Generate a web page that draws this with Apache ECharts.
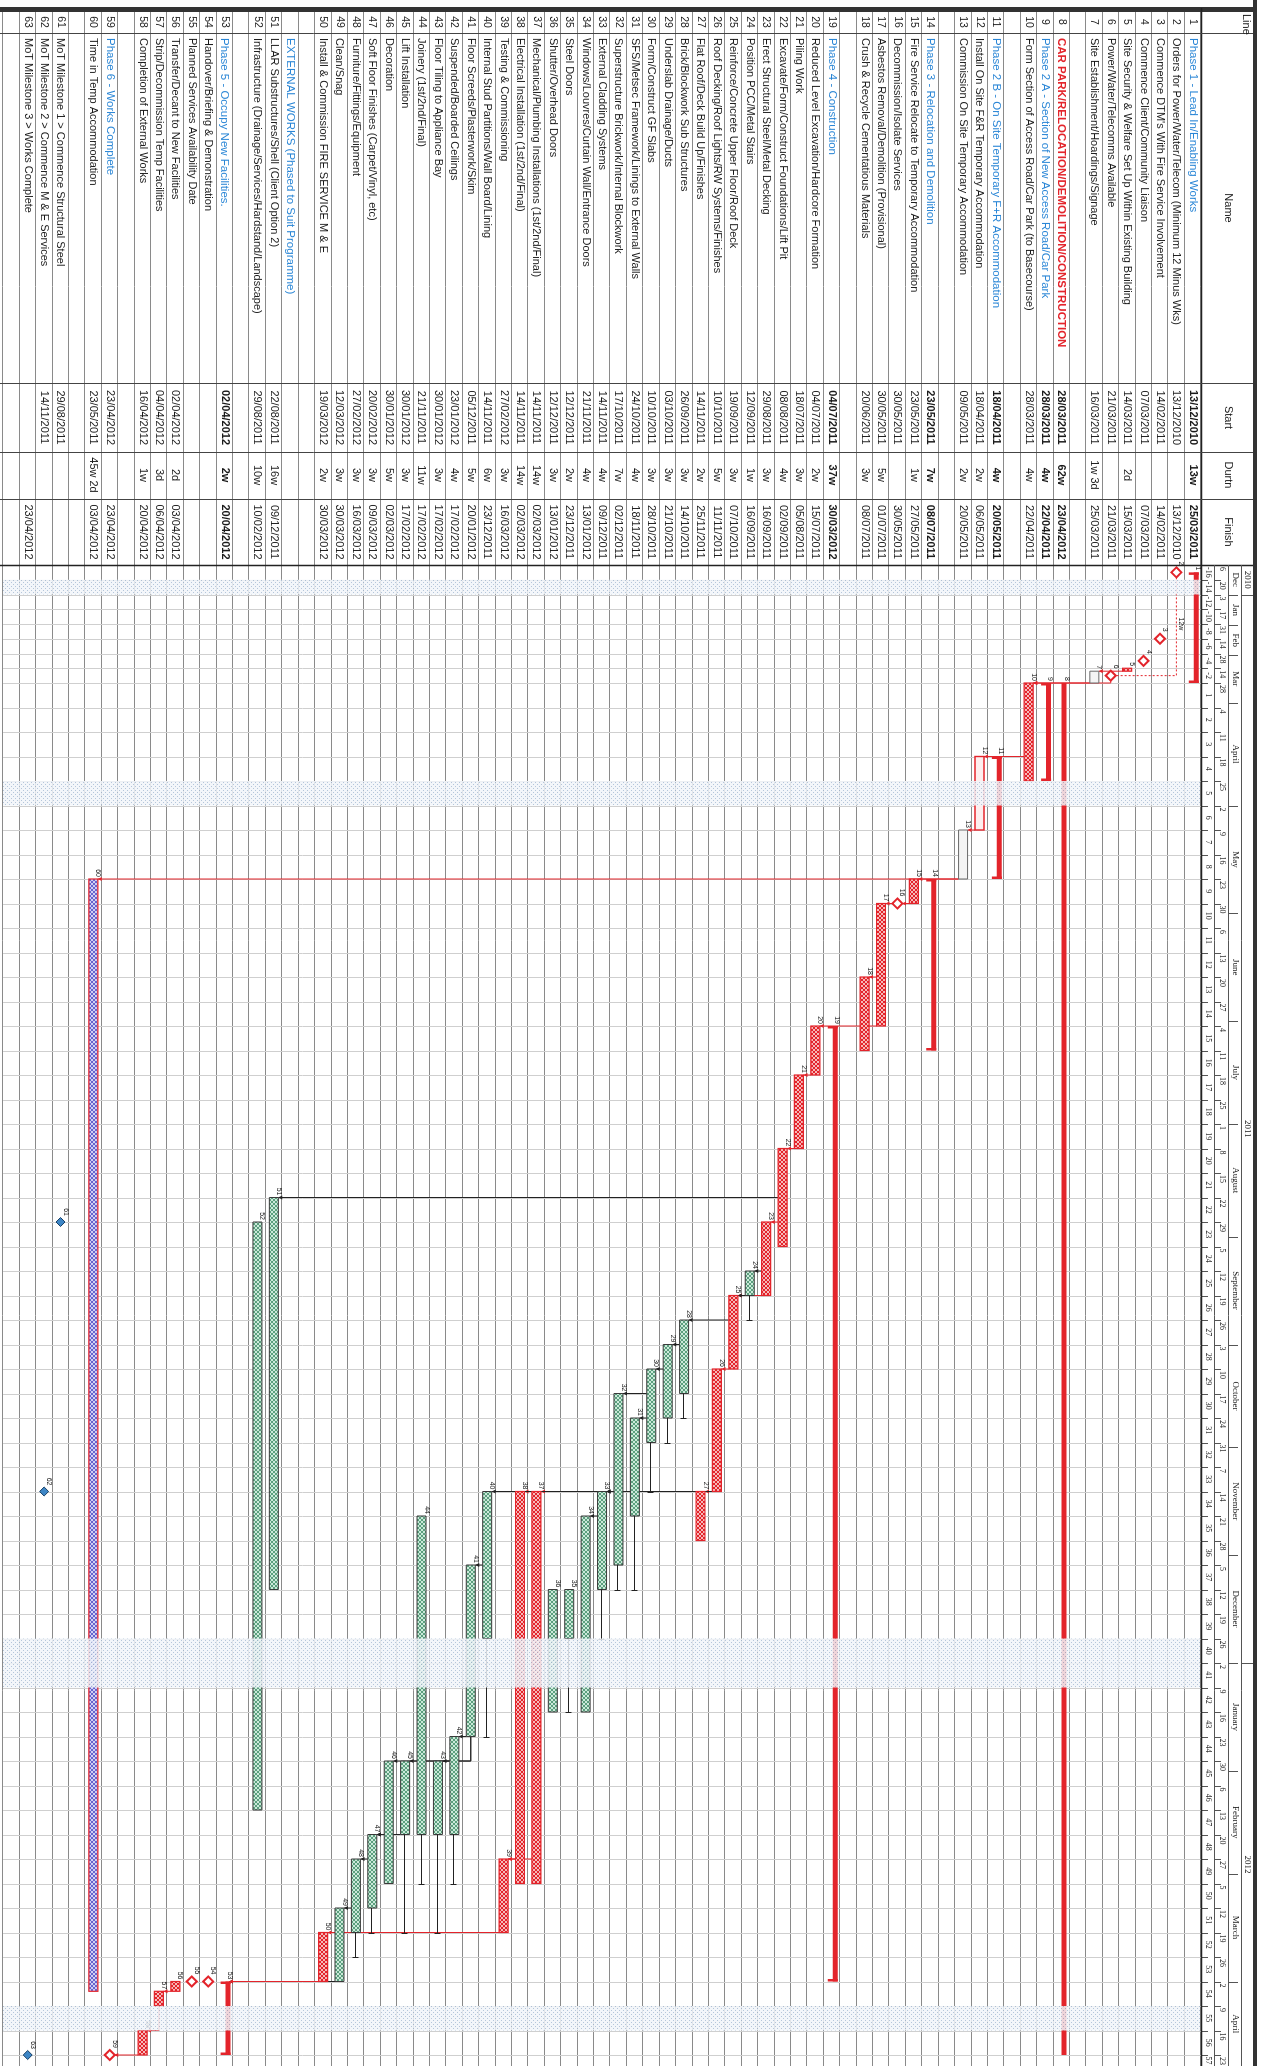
<!DOCTYPE html>
<html>
<head>
<meta charset="utf-8">
<title>Programme</title>
<script src="https://cdn.jsdelivr.net/npm/echarts@6/dist/echarts.min.js"></script>
<style>
  html, body { margin:0; padding:0; width:1262px; height:2066px; overflow:hidden; background:#fff; }
  /* the programme is laid out landscape and turned a quarter clockwise onto the portrait sheet */
  #chart { position:absolute; left:0; top:0; width:2066px; height:1262px;
           transform-origin:0 0; transform:translate(1262px,0) rotate(90deg); }
</style>
</head>
<body>
<div id="chart"></div>
<script>
// ---------------- programme lines ----------------
const lineNames = [
  'Phase 1 - Lead In/Enabling Works',
  'Orders for Power/Water/Telecom (Minimum 12 Minus Wks)',
  "Commence DTM's With Fire Service Involvement",
  'Commence Client/Community Liaison',
  'Site Security & Welfare Set Up Within Existing Building',
  'Power/Water/Telecomms Available',
  'Site Establishment/Hoardings/Signage',
  'CAR PARK/RELOCATION/DEMOLITION/CONSTRUCTION',
  'Phase 2 A - Section of New Access Road/Car Park',
  'Form Section of Access Road/Car Park (to Basecourse)',
  'Phase 2 B - On Site Temporary F+R Accommodation',
  'Install On Site F&R Temporary Accommodation',
  'Commission On Site Temporary Accommodation',
  'Phase 3 - Relocation and Demolition',
  'Fire Service Relocate to Temporary Accommodation',
  'Decommission/Isolate Services',
  'Asbestos Removal/Demolition (Provisional)',
  'Crush & Recycle Cementatious Materials',
  'Phase 4 - Construction',
  'Reduced Level Excavation/Hardcore Formation',
  'Piling Work',
  'Excavate/Form/Construct Foundations/Lift Pit',
  'Erect Structural Steel/Metal Decking',
  'Position PCC/Metal Stairs',
  'Reinforce/Concrete Upper Floor/Roof Deck',
  'Roof Decking/Roof Lights/RW Systems/Finishes',
  'Flat Roof/Deck Build Up/Finishes',
  'Brick/Blockwork Sub Structures',
  'Underslab Drainage/Ducts',
  'Form/Construct GF Slabs',
  'SFS/Metsec Framework/Linings to External Walls',
  'Superstructure Brickwork/Internal Blockwork',
  'External Cladding Systems',
  'Windows/Louvres/Curtain Wall/Entrance Doors',
  'Steel Doors',
  'Shutter/Overhead Doors',
  'Mechanical/Plumbing Installations (1st/2nd/Final)',
  'Electrical Installation (1st/2nd/Final)',
  'Testing & Commissioning',
  'Internal Stud Partitions/Wall Board/Lining',
  'Floor Screeds/Plasterwork/Skim',
  'Suspended/Boarded Ceilings',
  'Floor Tiling to Appliance Bay',
  'Joinery (1st/2nd/Final)',
  'Lift Installation',
  'Decoration',
  'Soft Floor Finishes (Carpet/Vinyl, etc)',
  'Furniture/Fittings/Equipment',
  'Clean/Snag',
  'Install & Commission FIRE SERVICE M & E',
  'LLAR Substructures/Shell (Client Option 2)',
  'Infrastructure (Drainage/Services/Hardstand/Landscape)',
  'Phase 5 - Occupy New Facilities.',
  'Handover/Briefing & Demonstration',
  'Planned Services Availability Date',
  'Transfer/Decant to New Facilities',
  'Strip/Decommission Temp Facilities',
  'Completion of External Works',
  'Phase 6 - Works Complete',
  'Time in Temp Accommodation',
  'MoT Milestone 1 > Commence Structural Steel',
  'MoT Milestone 2 > Commence M & E Services',
  'MoT Milestone 3 > Works Complete'
];
const lineStart = [
  '13/12/2010','13/12/2010','14/02/2011','07/03/2011','14/03/2011','21/03/2011','16/03/2011',
  '28/03/2011','28/03/2011','28/03/2011','18/04/2011','18/04/2011','09/05/2011','23/05/2011','23/05/2011','30/05/2011','30/05/2011','20/06/2011',
  '04/07/2011','04/07/2011','18/07/2011','08/08/2011','29/08/2011','12/09/2011','19/09/2011','10/10/2011','14/11/2011','26/09/2011',
  '03/10/2011','10/10/2011','24/10/2011','17/10/2011','14/11/2011','21/11/2011','12/12/2011','12/12/2011','14/11/2011','14/11/2011',
  '27/02/2012','14/11/2011','05/12/2011','23/01/2012','30/01/2012','21/11/2011','30/01/2012','30/01/2012','20/02/2012','27/02/2012',
  '12/03/2012','19/03/2012',
  '22/08/2011','29/08/2011','02/04/2012','','','02/04/2012','04/04/2012','16/04/2012','23/04/2012','23/05/2011','29/08/2011','14/11/2011',''
];
const lineDurtn = [
  '13w','','','','2d','','1w 3d',
  '62w','4w','4w','4w','2w','2w','7w','1w','','5w','3w',
  '37w','2w','3w','4w','3w','1w','3w','5w','2w','3w','3w','3w','4w','7w','4w','4w','2w','3w','14w','14w','3w','6w','5w','4w','3w',
  '11w','3w','5w','3w','3w','3w','2w',
  '16w','10w','2w','','','2d','3d','1w','','45w 2d','','',''
];
const lineFinish = [
  '25/03/2011','13/12/2010','14/02/2011','07/03/2011','15/03/2011','21/03/2011','25/03/2011',
  '23/04/2012','22/04/2011','22/04/2011','20/05/2011','06/05/2011','20/05/2011','08/07/2011','27/05/2011','30/05/2011','01/07/2011','08/07/2011',
  '30/03/2012','15/07/2011','05/08/2011','02/09/2011','16/09/2011','16/09/2011','07/10/2011','11/11/2011','25/11/2011','14/10/2011',
  '21/10/2011','28/10/2011','18/11/2011','02/12/2011','09/12/2011','13/01/2012','23/12/2011','13/01/2012','02/03/2012','02/03/2012',
  '16/03/2012','23/12/2011','20/01/2012','17/02/2012','17/02/2012','17/02/2012','17/02/2012','02/03/2012','09/03/2012','16/03/2012',
  '30/03/2012','30/03/2012',
  '09/12/2011','10/02/2012','20/04/2012','','','03/04/2012','06/04/2012','20/04/2012','23/04/2012','03/04/2012','','','23/04/2012'
];
// schedule role of each line
const lineType = [
  'summary','milestone','milestone','milestone','critical','milestone','open',
  'project','summary','critical','summary','critopen','open','summary','critical','milestone','critical','critical',
  'summary','critical','critical','critical','critical','task','critical','critical','critical','task','task','task','task','task',
  'task','task','task','task','critical','critical','critical','task','task','task','task','task','task','task','task','task','task','critical',
  'task','task','summary','milestone','milestone','critical','critical','critical','milestone','temporary','mot','mot','mot'
];
// key dates for the two lines whose date cells are left blank
const undatedLines = [54, 55];
const undatedDates = ['02/04/2012', '02/04/2012'];

// sheet order: 0 = spacer row, -1 = section caption
const slotLines = [1,2,3,4,5,6,7,0,8,9,10,0,11,12,13,0,14,15,16,17,18,0,
  19,20,21,22,23,24,25,26,27,28,29,30,31,32,33,34,35,36,37,38,39,40,41,42,43,44,45,46,47,48,49,50,0,
  -1,51,52,0,53,54,55,56,57,58,0,59,60,0,61,62,63,0];
const sectionCaption = 'EXTERNAL WORKS (Phased to Suit Programme)';
const headingLines = [1,9,11,14,19,53,59];
const projectLines = [8];
const boldDateLines = [1,8,9,11,14,19,53];

// non-working periods
const holidayFrom = ['20/12/2010','25/04/2011','26/12/2011','09/04/2012'];
const holidayTo   = ['31/12/2010','29/04/2011','06/01/2012','13/04/2012'];

// total float of the non-critical activities (latest finish)
const floatLine = [24, 28, 29, 30, 31, 32, 33, 35, 40, 42, 43, 44, 45, 47, 48];
const floatEnd  = ['23/09/2011','21/10/2011','28/10/2011','11/11/2011','09/12/2011','09/12/2011','23/12/2011','13/01/2012',
                   '20/01/2012','02/03/2012','16/03/2012','02/03/2012','16/03/2012','16/03/2012','23/03/2012'];

// logic links (predecessor -> successor)
const linkFrom = [5, 6, 7, 10, 12, 13, 13, 15, 16, 17, 17, 20, 21, 22, 22, 23, 23, 24, 25, 26, 26, 26, 26,
  25, 28, 29, 30, 30, 31, 32, 33, 26, 40, 41, 41, 41, 42, 45, 46, 47, 48, 37, 38, 39, 49, 50, 56, 57, 58];
const linkTo   = [7, 10, 10, 12, 13, 15, 60, 16, 17, 18, 20, 21, 22, 23, 51, 24, 25, 25, 26, 27, 37, 38, 40,
  28, 29, 30, 31, 32, 33, 33, 34, 33, 41, 42, 45, 46, 43, 47, 47, 48, 49, 39, 39, 50, 53, 53, 57, 58, 59];
// lagged link from the orders to the services being available
const lagFrom = 2, lagTo = 6, lagLabel = '12w';

// timescale labels
const yearLabels = ['2010', '2011', '2012'];
const yearStarts = ['06/12/2010', '01/01/2011', '01/01/2012'];
const monthLabels = ['Dec','Jan','Feb','Mar','April','May','June','July','August','September','October','November','December','January','February','March','April'];
const monthStarts = ['06/12/2010','01/01/2011','01/02/2011','01/03/2011','01/04/2011','01/05/2011','01/06/2011','01/07/2011','01/08/2011',
  '01/09/2011','01/10/2011','01/11/2011','01/12/2011','01/01/2012','01/02/2012','01/03/2012','01/04/2012'];
const scaleEnd = '30/04/2012';

// ---------------- time scale helpers ----------------
const DAY = 86400000;
function parseD(s) { const p = s.split('/').map(Number); return Date.UTC(p[2], p[1] - 1, p[0]); }
const ORIGIN = parseD('06/12/2010');       // first column of the scale (a Monday)
const FULL_FROM = parseD('28/03/2011');    // week 1: scale is condensed before this
const CONDENSED_WEEKS = 16;
const CONDENSED = 118 / 16 / 24.5;         // width of a condensed week, in full weeks
const AXIS_MAX = 1501 / 24.5;              // visible span in full weeks
// working-week position of a calendar instant on the axis
function toAxis(t) {
  const days = Math.round((t - ORIGIN) / DAY);
  const wk = Math.floor(days / 7), r = days - wk * 7;
  const w = wk + Math.min(r, 5) / 5;
  return w <= CONDENSED_WEEKS ? w * CONDENSED : CONDENSED_WEEKS * CONDENSED + (w - CONDENSED_WEEKS);
}
const uOf = s => toAxis(parseD(s));
const uEndOf = s => toAxis(parseD(s) + DAY);

// ---------------- layout ----------------
const BODY_TOP = 61, SLOT_H = 16.41, NSLOT = slotLines.length;
const TIME_LEFT = 565;
const RED = '#e3242b', BLUE_TXT = '#2a86d6', INK = '#1a1a1a';
const slotOfLine = {};
slotLines.forEach((l, i) => { if (l > 0) slotOfLine[l] = i; });

function pattern(bg, fg, size, cross) {
  const c = document.createElement('canvas');
  c.width = c.height = size;
  const g = c.getContext('2d');
  g.fillStyle = bg; g.fillRect(0, 0, size, size);
  g.strokeStyle = fg; g.lineWidth = 1;
  g.beginPath(); g.moveTo(0, size); g.lineTo(size, 0); g.stroke();
  if (cross) { g.beginPath(); g.moveTo(0, 0); g.lineTo(size, size); g.stroke(); }
  return { image: c, repeat: 'repeat' };
}
function dots(bg, fg) {
  const c = document.createElement('canvas');
  c.width = c.height = 4;
  const g = c.getContext('2d');
  g.fillStyle = bg; g.fillRect(0, 0, 4, 4);
  g.fillStyle = fg; g.fillRect(0, 0, 1, 1); g.fillRect(2, 2, 1, 1);
  return { image: c, repeat: 'repeat' };
}
const FILL_CRIT = pattern('#f6b9b9', '#e3242b', 4, true);
const FILL_TASK = pattern('#cbe9d9', '#5b9f7e', 4, true);
const FILL_TEMP = pattern('#cfcff3', '#6763cf', 4, true);
const FILL_HOL = dots('#f1f5fa', '#a9bdd4');

// ---------------- derived marks ----------------
function lineBar(l) {
  const i = l - 1, type = lineType[i];
  const k = undatedLines.indexOf(l);
  const s = lineStart[i] || lineFinish[i] || (k >= 0 ? undatedDates[k] : '');
  if (type === 'milestone' || type === 'mot') return { u0: uOf(s), u1: uOf(s), type };
  const f = lineFinish[i];
  // a finish on a Monday closes at that key date rather than at the end of the day
  const monday = new Date(parseD(f)).getUTCDay() === 1 && type === 'project';
  return { u0: uOf(s), u1: monday ? uOf(f) : uEndOf(f), type };
}
const bars = lineNames.map((_, i) => Object.assign({ line: i + 1 }, lineBar(i + 1)));

const barData = bars.map(b => [b.u0, slotOfLine[b.line], b.u1]);
const holidayData = holidayFrom.map((f, i) => [uOf(f), uEndOf(holidayTo[i])]);
const floatData = floatLine.map((l, i) => [bars[l - 1].u1, slotOfLine[l], uEndOf(floatEnd[i])]);

const linkData = linkFrom.map((a, i) => {
  const b = linkTo[i], pa = bars[a - 1], pb = bars[b - 1];
  return [pa.u1, slotOfLine[a], pb.u0, slotOfLine[b], (lineType[a - 1] !== 'task' && lineType[b - 1] !== 'task') ? 1 : 0];
});

// scale ticks: fortnightly while condensed, weekly afterwards
const ticks = [];
for (let t = ORIGIN; t < FULL_FROM; t += 14 * DAY) ticks.push({ t, n: -16 + ticks.length * 2 });
let wkNo = 1;
for (let t = FULL_FROM; t <= parseD(scaleEnd); t += 7 * DAY) ticks.push({ t, n: wkNo++ });
const tickU = ticks.map(k => toAxis(k.t));

// ---------------- chart ----------------
const chart = echarts.init(document.getElementById('chart'), null, { renderer: 'canvas', width: 2066, height: 1262 });
const slotIds = slotLines.map((_, i) => 's' + i);
const gridH = NSLOT * SLOT_H;

function catAxis(gi) {
  return {
    type: 'category', gridIndex: gi, data: slotIds, inverse: true,
    axisLine: { show: false }, axisTick: { show: false }, axisLabel: { show: false, interval: 0 },
    splitLine: { show: true, interval: 0, lineStyle: { color: '#8a8a8a', width: 1 } }
  };
}

const SERIF = '"Liberation Serif", "DejaVu Serif", serif';
const SANS = '"Liberation Sans", Arial, sans-serif';

const option = {
  animation: false,
  backgroundColor: '#ffffff',
  grid: [
    { left: 8, top: BODY_TOP, width: TIME_LEFT - 8, height: gridH },
    { left: TIME_LEFT, top: BODY_TOP, right: 0, height: gridH }
  ],
  xAxis: [
    { type: 'value', gridIndex: 0, min: 0, max: TIME_LEFT - 8, show: false },
    { type: 'value', gridIndex: 1, min: 0, max: AXIS_MAX, show: false }
  ],
  yAxis: [catAxis(0), catAxis(1)],
  graphic: { elements: [] },
  series: []
};

// table cells
option.series.push({
  type: 'custom', xAxisIndex: 0, yAxisIndex: 0, z: 5, silent: true,
  data: slotLines.map((l, i) => [0, i]),
  renderItem(params, api) {
    const slot = params.dataIndex, l = slotLines[slot];
    const y = api.coord([0, slot])[1];
    const kids = [];
    const txt = (x, s, align, style) => kids.push({
      type: 'text', x, y,
      style: Object.assign({ text: s, textAlign: align, textVerticalAlign: 'middle', fill: INK, font: '11px ' + SANS }, style || {})
    });
    if (l === -1) {
      txt(38, sectionCaption, 'left', { fill: BLUE_TXT, font: '11.5px ' + SANS });
    } else if (l > 0) {
      const i = l - 1;
      txt(22, String(l), 'center', { font: '10.5px ' + SANS });
      let nameStyle = { font: '11px ' + SANS };
      if (headingLines.includes(l)) nameStyle = { fill: BLUE_TXT, font: '500 11.5px ' + SANS };
      if (projectLines.includes(l)) nameStyle = { fill: RED, font: 'bold 11.5px ' + SANS };
      txt(38, lineNames[i], 'left', nameStyle);
      const df = (boldDateLines.includes(l) ? 'bold ' : '') + '11px ' + SANS;
      if (lineStart[i]) txt(417.5, lineStart[i], 'center', { font: df });
      if (lineDurtn[i]) txt(475, lineDurtn[i], 'center', { font: df });
      if (lineFinish[i]) txt(532, lineFinish[i], 'center', { font: df });
    }
    return { type: 'group', children: kids };
  }
});

// weekly grid lines across the bar area
option.series.push({
  type: 'custom', xAxisIndex: 1, yAxisIndex: 1, z: 1, silent: true,
  data: tickU.map(u => [u, 0]),
  renderItem(params, api) {
    const x = Math.round(api.coord([api.value(0), 0])[0]) + 0.5;
    const top = params.coordSys.y, bot = top + params.coordSys.height;
    return { type: 'line', shape: { x1: x, y1: top, x2: x, y2: bot }, style: { stroke: '#cfcfcf', lineWidth: 1 } };
  }
});

// timescale header: years, months, week commencing dates, week numbers
const headerItems = [];
yearStarts.forEach((s, i) => headerItems.push({ kind: 'year', u0: uOf(s), u1: i + 1 < yearStarts.length ? uOf(yearStarts[i + 1]) : AXIS_MAX, text: yearLabels[i] }));
monthStarts.forEach((s, i) => headerItems.push({ kind: 'month', u0: uOf(s), u1: i + 1 < monthStarts.length ? uOf(monthStarts[i + 1]) : AXIS_MAX, text: monthLabels[i] }));
ticks.forEach((k, i) => headerItems.push({ kind: 'week', u0: tickU[i], u1: i + 1 < ticks.length ? tickU[i + 1] : AXIS_MAX,
  text: String(new Date(k.t).getUTCDate()), num: String(k.n) }));

option.series.push({
  type: 'custom', xAxisIndex: 1, yAxisIndex: 1, z: 6, silent: true, clip: false,
  data: headerItems.map(h => [h.u0, 0]),
  renderItem(params, api) {
    const h = headerItems[params.dataIndex];
    const x0 = api.coord([h.u0, 0])[0], x1 = api.coord([Math.min(h.u1, AXIS_MAX), 0])[0];
    const xl = Math.round(x0) + 0.5;
    const kids = [];
    if (h.kind === 'year') {
      kids.push({ type: 'line', shape: { x1: xl, y1: 9, x2: xl, y2: 20 }, style: { stroke: '#555', lineWidth: 1 } });
      kids.push({ type: 'text', x: (x0 + x1) / 2, y: 14.5, style: { text: h.text, textAlign: 'center', textVerticalAlign: 'middle', fill: INK, font: '9px ' + SERIF } });
    } else if (h.kind === 'month') {
      kids.push({ type: 'line', shape: { x1: xl, y1: 24, x2: xl, y2: 33 }, style: { stroke: '#555', lineWidth: 1 } });
      kids.push({ type: 'text', x: (x0 + x1) / 2, y: 27, style: { text: h.text, textAlign: 'center', textVerticalAlign: 'middle', fill: INK, font: '9px ' + SERIF } });
    } else {
      kids.push({ type: 'line', shape: { x1: xl, y1: 41, x2: xl, y2: 47 }, style: { stroke: '#555', lineWidth: 1 } });
      kids.push({ type: 'line', shape: { x1: xl, y1: 54, x2: xl, y2: 60 }, style: { stroke: '#555', lineWidth: 1 } });
      kids.push({ type: 'text', x: x0 + 2, y: 40, style: { text: h.text, textAlign: 'left', textVerticalAlign: 'middle', fill: INK, font: '8px ' + SERIF } });
      kids.push({ type: 'text', x: (x0 + x1) / 2, y: 53.5, style: { text: h.num, textAlign: 'center', textVerticalAlign: 'middle', fill: INK, font: '8px ' + SERIF } });
    }
    return { type: 'group', children: kids };
  }
});

// bars, summaries and milestones
option.series.push({
  type: 'custom', xAxisIndex: 1, yAxisIndex: 1, z: 3, silent: true,
  data: barData,
  renderItem(params, api) {
    const b = bars[params.dataIndex];
    const p0 = api.coord([api.value(0), api.value(1)]);
    const p1 = api.coord([api.value(2), api.value(1)]);
    const cy = p0[1], x0 = p0[0], w = Math.max(p1[0] - p0[0], 1);
    const kids = [];
    const label = { type: 'text', x: x0 - 2, y: cy - 5, style: { text: String(b.line), textAlign: 'right', textVerticalAlign: 'middle', fill: INK, font: '7px ' + SANS } };
    switch (b.type) {
      case 'summary':
        kids.push({ type: 'rect', shape: { x: x0, y: cy - 6, width: w, height: 5 }, style: { fill: RED } });
        kids.push({ type: 'rect', shape: { x: x0, y: cy - 6, width: 2.5, height: 10 }, style: { fill: RED } });
        kids.push({ type: 'rect', shape: { x: x0 + w - 2.5, y: cy - 6, width: 2.5, height: 10 }, style: { fill: RED } });
        break;
      case 'project':
        kids.push({ type: 'rect', shape: { x: x0, y: cy - 5, width: w, height: 5 }, style: { fill: RED } });
        break;
      case 'critical':
        kids.push({ type: 'rect', shape: { x: x0, y: cy - 4.5, width: w, height: 9 }, style: { fill: FILL_CRIT, stroke: RED, lineWidth: 1.2 } });
        break;
      case 'task':
        kids.push({ type: 'rect', shape: { x: x0, y: cy - 4.5, width: w, height: 9 }, style: { fill: FILL_TASK, stroke: '#3a3a3a', lineWidth: 1 } });
        break;
      case 'temporary':
        kids.push({ type: 'rect', shape: { x: x0, y: cy - 4.5, width: w, height: 9 }, style: { fill: FILL_TEMP, stroke: RED, lineWidth: 1.2 } });
        break;
      case 'open':
        kids.push({ type: 'rect', shape: { x: x0, y: cy - 4.5, width: w, height: 9 }, style: { fill: '#f4f4f4', stroke: '#6a6a6a', lineWidth: 1 } });
        break;
      case 'critopen':
        kids.push({ type: 'rect', shape: { x: x0, y: cy - 4.5, width: w, height: 9 }, style: { fill: '#fdeeee', stroke: RED, lineWidth: 1.4 } });
        break;
      case 'milestone':
        kids.push({ type: 'polygon', shape: { points: [[x0, cy - 5], [x0 + 5, cy], [x0, cy + 5], [x0 - 5, cy]] }, style: { fill: '#fff', stroke: RED, lineWidth: 2 } });
        label.x = x0 - 7;
        break;
      case 'mot':
        kids.push({ type: 'polygon', shape: { points: [[x0, cy - 4.5], [x0 + 4.5, cy], [x0, cy + 4.5], [x0 - 4.5, cy]] }, style: { fill: '#3d86c6', stroke: '#173f66', lineWidth: 1 } });
        label.x = x0 - 6;
        break;
    }
    kids.push(label);
    return { type: 'group', children: kids };
  }
});

// float lines after the non-critical activities
option.series.push({
  type: 'custom', xAxisIndex: 1, yAxisIndex: 1, z: 3, silent: true,
  data: floatData,
  renderItem(params, api) {
    const a = api.coord([api.value(0), api.value(1)]), b = api.coord([api.value(2), api.value(1)]);
    const xb = Math.round(b[0]) + 0.5, y = Math.round(a[1]) + 0.5;
    return { type: 'group', children: [
      { type: 'line', shape: { x1: a[0], y1: y, x2: xb, y2: y }, style: { stroke: '#222', lineWidth: 1 } },
      { type: 'line', shape: { x1: xb, y1: y - 3, x2: xb, y2: y + 3 }, style: { stroke: '#222', lineWidth: 1 } }
    ] };
  }
});

// holidays laid over the bars
option.series.push({
  type: 'custom', xAxisIndex: 1, yAxisIndex: 1, z: 4, silent: true,
  data: holidayData,
  renderItem(params, api) {
    const a = api.coord([api.value(0), 0])[0], b = api.coord([api.value(1), 0])[0];
    const top = params.coordSys.y;
    return { type: 'rect', shape: { x: a, y: top + 1, width: b - a, height: params.coordSys.height - 1 }, style: { fill: FILL_HOL, opacity: 0.85 } };
  }
});

// logic links
option.series.push({
  type: 'custom', xAxisIndex: 1, yAxisIndex: 1, z: 2, silent: true,
  data: linkData,
  renderItem(params, api) {
    const uE = api.value(0), sa = api.value(1), uS = api.value(2), sb = api.value(3), crit = api.value(4);
    const col = crit ? RED : '#222';
    const pa = api.coord([uE, sa]), pb = api.coord([uS, sb]);
    const dir = sb > sa ? 1 : -1;
    const yEnd = pb[1] - dir * 4.5;
    const pts = [];
    if (pb[0] > pa[0] + 0.5) { pts.push([pa[0], pa[1]], [pb[0], pa[1]]); } else { pts.push([pb[0], pa[1] + dir * 4.5]); }
    pts.push([pb[0], yEnd]);
    return { type: 'group', children: [
      { type: 'polyline', shape: { points: pts }, style: { stroke: col, lineWidth: 1, fill: null } },
      { type: 'polygon', shape: { points: [[pb[0], yEnd], [pb[0] - 2, yEnd - dir * 4], [pb[0] + 2, yEnd - dir * 4]] }, style: { fill: col } }
    ] };
  }
});

// lag line with its duration
option.series.push({
  type: 'custom', xAxisIndex: 1, yAxisIndex: 1, z: 2, silent: true,
  data: [[bars[lagFrom - 1].u0, slotOfLine[lagFrom], bars[lagTo - 1].u0, slotOfLine[lagTo]]],
  renderItem(params, api) {
    const pa = api.coord([api.value(0), api.value(1)]), pb = api.coord([api.value(2), api.value(3)]);
    return { type: 'group', children: [
      { type: 'polyline', shape: { points: [[pa[0] + 5, pa[1]], [pb[0], pa[1]], [pb[0], pb[1] - 5]] }, style: { stroke: RED, lineWidth: 1, fill: null, lineDash: [2, 2] } },
      { type: 'text', x: (pa[0] + pb[0]) / 2, y: pa[1] - 5, style: { text: lagLabel, textAlign: 'center', textVerticalAlign: 'middle', fill: INK, font: '7px ' + SANS } }
    ] };
  }
});

// sheet frame and table header
const G = option.graphic.elements;
const colLines = [33, 383, 452, 499];
G.push({ type: 'rect', shape: { x: 0, y: 5, width: 2066, height: 4 }, style: { fill: '#333' }, z: 10 });
G.push({ type: 'rect', shape: { x: 7, y: 5, width: 5, height: 1262 }, style: { fill: '#333' }, z: 10 });
G.push({ type: 'line', shape: { x1: 8, y1: 60.5, x2: 2066, y2: 60.5 }, style: { stroke: '#222', lineWidth: 1.5 }, z: 10 });
colLines.forEach(x => G.push({ type: 'line', shape: { x1: x + 0.5, y1: 9, x2: x + 0.5, y2: 1262 }, style: { stroke: '#444', lineWidth: 1 }, z: 10 }));
G.push({ type: 'line', shape: { x1: TIME_LEFT + 0.5, y1: 9, x2: TIME_LEFT + 0.5, y2: 1262 }, style: { stroke: '#222', lineWidth: 1.5 }, z: 10 });
[20.5, 33.5, 47.5].forEach(y => G.push({ type: 'line', shape: { x1: TIME_LEFT, y1: y, x2: 2066, y2: y }, style: { stroke: '#555', lineWidth: 1 }, z: 10 }));
const headTitles = [['Line', 14, 16, 'left'], ['Name', 208, 34, 'center'], ['Start', 417.5, 34, 'center'], ['Durtn', 475, 34, 'center'], ['Finish', 532, 34, 'center']];
headTitles.forEach(h => G.push({ type: 'text', x: h[1], y: h[2], style: { text: h[0], textAlign: h[3], textVerticalAlign: 'middle', fill: INK, font: '11px ' + SANS }, z: 10 }));

chart.setOption(option);
</script>
</body>
</html>
